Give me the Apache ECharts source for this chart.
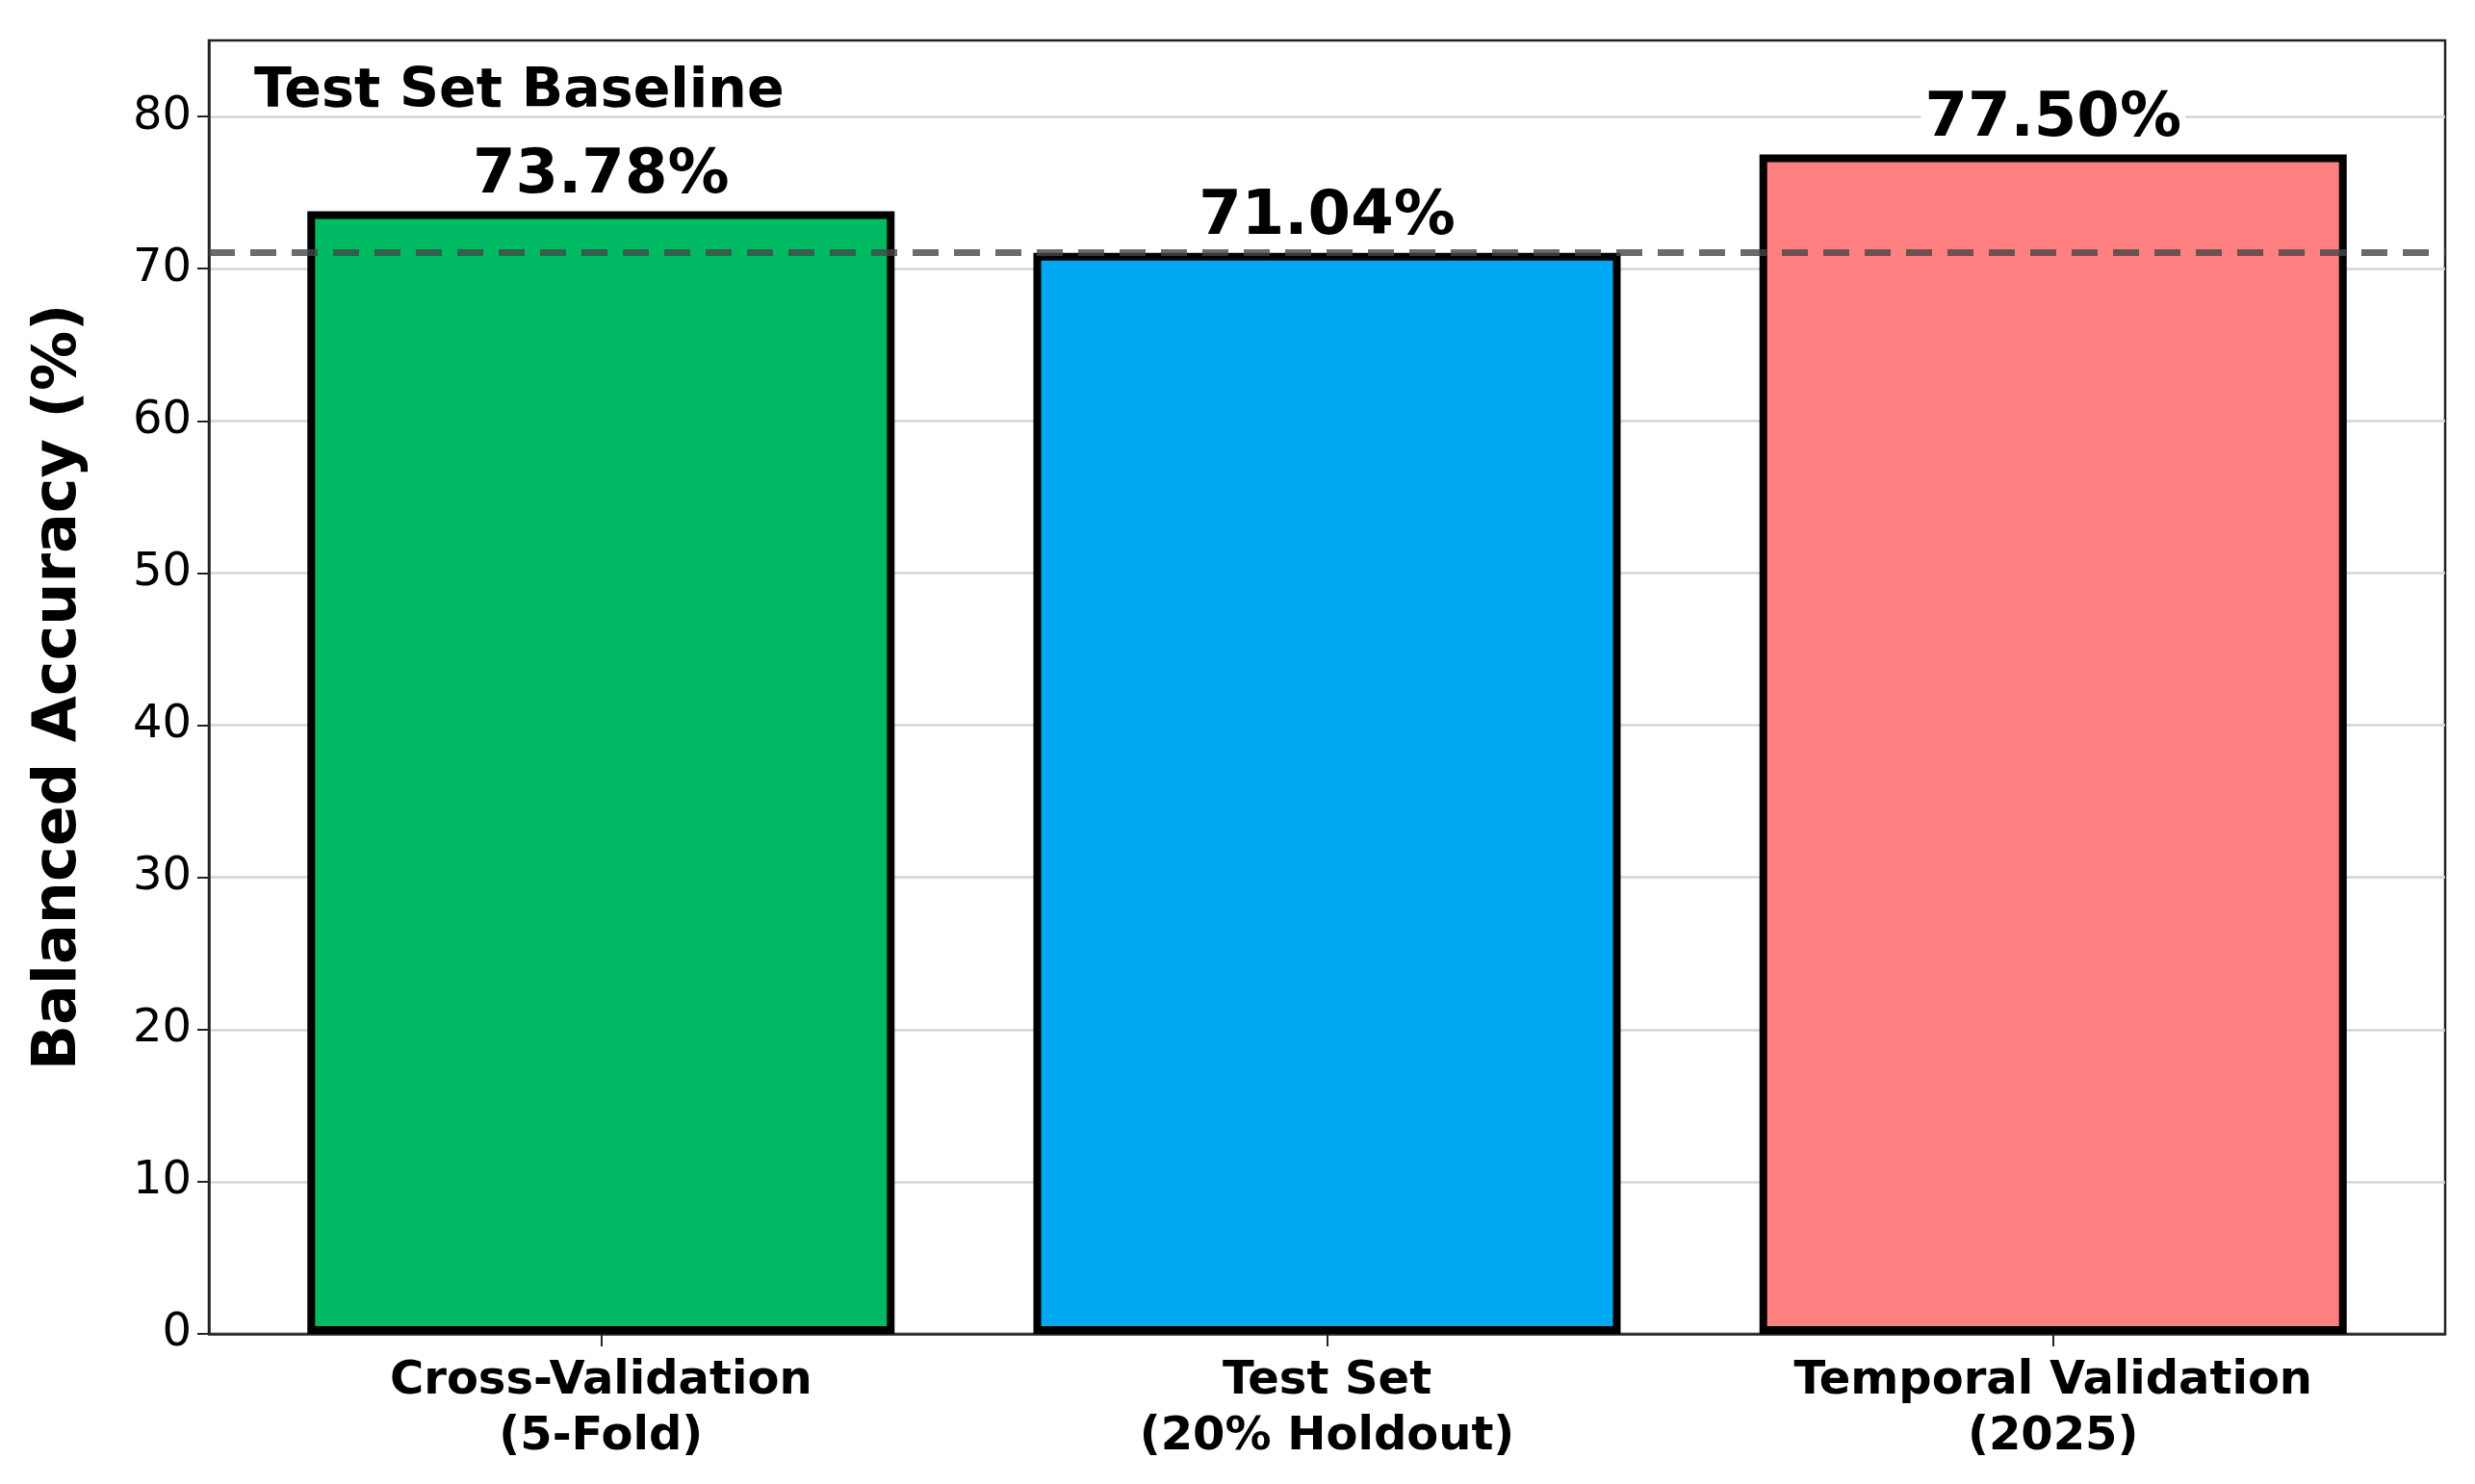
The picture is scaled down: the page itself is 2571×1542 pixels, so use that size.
<!DOCTYPE html>
<html>
<head>
<meta charset="utf-8">
<script src="https://cdn.jsdelivr.net/npm/echarts@6/dist/echarts.min.js"></script>
<style>
html,body{margin:0;padding:0;background:#fff;}
#chart{width:2571px;height:1542px;}
</style>
</head>
<body>
<div id="chart"></div>
<script>
const categories = ['Cross-Validation\n(5-Fold)', 'Test Set\n(20% Holdout)', 'Temporal Validation\n(2025)'];
const accuracy = [73.78, 71.04, 77.50];
const barColors = ['#00BA63', '#00A8F3', '#FF8080'];
const baselineValue = 71.04;
const baselineText = 'Test Set Baseline';
const yTicks = [0, 10, 20, 30, 40, 50, 60, 70, 80];
const positions = [0, 1, 2];

const FONT = 'DejaVu Sans';
const chart = echarts.init(document.getElementById('chart'), null, {renderer: 'canvas'});

const option = {
  backgroundColor: '#ffffff',
  animation: false,
  grid: {
    left: 217, right: 31, top: 42, bottom: 156,
    show: true, borderColor: '#222', borderWidth: 2.5, containLabel: false
  },
  xAxis: {
    type: 'value',
    min: -0.54, max: 2.54,
    splitLine: {show: false},
    axisLine: {show: true, onZero: false, lineStyle: {color: '#222', width: 2.5}},
    axisTick: {show: true, customValues: positions, length: 13, lineStyle: {color: '#222', width: 2}},
    axisLabel: {
      customValues: positions,
      formatter: v => categories[Math.round(v)],
      fontFamily: FONT, fontWeight: 'bold', fontSize: 48, color: '#000',
      lineHeight: 58, margin: 21, align: 'center'
    }
  },
  yAxis: {
    type: 'value',
    min: 0, max: 85, interval: 10,
    name: 'Balanced Accuracy (%)',
    nameLocation: 'middle', nameGap: 124, nameRotate: 90,
    nameTextStyle: {fontFamily: FONT, fontWeight: 'bold', fontSize: 62, color: '#000'},
    axisLine: {show: true, onZero: false, lineStyle: {color: '#222', width: 2.5}},
    axisTick: {show: true, customValues: yTicks, length: 12, lineStyle: {color: '#222', width: 2}},
    axisLabel: {
      customValues: yTicks,
      fontFamily: FONT, fontSize: 48, color: '#000', margin: 18
    },
    splitLine: {show: true, lineStyle: {color: '#d4d4d4', width: 2.5}}
  },
  graphic: [{
    type: 'text', left: 264, top: 68, z: 100,
    style: {text: baselineText, fontFamily: FONT, fontWeight: 'bold', fontSize: 57, fill: '#000'}
  }],
  series: [{
    type: 'bar',
    barWidth: 610,
    data: accuracy.map((v, i) => ({value: [positions[i], v], itemStyle: {color: barColors[i]}})),
    itemStyle: {borderColor: '#000', borderWidth: 8},
    label: {
      show: true, position: 'top', distance: 4,
      formatter: p => p.value[1].toFixed(2) + '%',
      fontFamily: FONT, fontWeight: 'bold', fontSize: 64, color: '#000',
      backgroundColor: '#fff', padding: [0, 4, 0, 4]
    },
    markLine: {
      silent: true, symbol: 'none', z: 10,
      label: {show: false},
      lineStyle: {type: [27, 16], color: 'rgba(70,70,70,0.8)', width: 7},
      data: [{yAxis: baselineValue}]
    }
  }]
};
chart.setOption(option);
</script>
</body>
</html>
